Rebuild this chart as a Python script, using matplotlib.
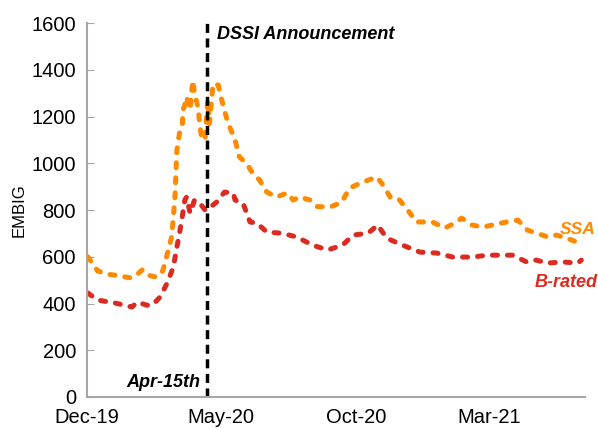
import pandas as pd
import numpy as np
import matplotlib.pyplot as plt

plt.rcParams['font.family'] = ['Liberation Sans', 'DejaVu Sans']

start = pd.Timestamp('2019-12-01')

# days since 1 Dec 2019
ssa_days = [1, 12, 24, 35, 49, 57, 63, 71, 79, 86, 91, 96, 98, 100, 101, 102, 105, 108, 109, 111,
            113, 117, 120, 122, 126, 128, 130, 134, 137, 139, 143, 149, 153, 159, 162, 168, 173, 181,
            188, 196, 204, 215, 227, 234, 241, 253, 261, 276, 289, 298, 310, 319, 329, 336, 344, 353,
            364, 374, 392, 406, 420, 425, 437, 449, 460, 476, 489, 500, 510, 523, 533, 544, 556, 562]
ssa = [600, 540, 525, 520, 510, 525, 545, 520, 513, 540, 610, 685, 770, 870, 970, 1055, 1130, 1155, 1230, 1250,
       1285, 1230, 1355, 1300, 1240, 1165, 1110, 1100, 1270, 1170, 1340, 1335, 1270, 1185, 1155, 1100, 1027, 1000,
       958, 928, 877, 856, 873, 843, 856, 843, 815, 813, 834, 894, 915, 928, 941, 907, 856, 851,
       800, 749, 749, 723, 749, 766, 736, 727, 736, 749, 757, 714, 701, 685, 693, 680, 663, 680]

b_days = [1, 12, 32, 51, 57, 68, 74, 83, 91, 98, 102, 105, 108, 111, 113, 117, 122, 128, 134, 136,
          147, 156, 166, 168, 177, 185, 193, 204, 221, 238, 256, 273, 290, 302, 319, 330, 340, 358,
          378, 397, 415, 438, 454, 468, 483, 499, 510, 522, 540, 557, 561]
b_rated = [445, 415, 402, 385, 406, 393, 393, 428, 488, 556, 642, 701, 770, 843, 856, 787, 843, 830, 800, 800,
           834, 877, 873, 843, 830, 749, 744, 706, 701, 685, 650, 629, 650, 693, 701, 736, 680, 650,
           620, 616, 599, 599, 607, 607, 607, 578, 586, 573, 578, 573, 586]

tick_dates = ['2019-12-01', '2020-05-01', '2020-10-01', '2021-03-01']
tick_labels = ['Dec-19', 'May-20', 'Oct-20', 'Mar-21']
announce = pd.Timestamp('2020-04-15')

ssa_x = start + pd.to_timedelta(ssa_days, unit='D')
b_x = start + pd.to_timedelta(b_days, unit='D')

fig = plt.figure(figsize=(5.98, 4.29), dpi=100)
ax = fig.add_axes([0.1455, 0.0746, 0.8325, 0.8714])

orange = '#FF8A00'
red = '#DD2A20'
ax.plot(ssa_x, ssa, color=orange, lw=3.6, dashes=(1.0, 2.0), dash_capstyle='round')
ax.plot(b_x, b_rated, color=red, lw=3.6, dashes=(1.0, 2.0), dash_capstyle='round')
ax.plot([announce, announce], [0, 1600], color='black', lw=2.5, dashes=(2.6, 1.6))

ax.set_ylim(0, 1600)
ax.set_xlim(start, start + pd.Timedelta(days=565))
ax.set_yticks(np.arange(0, 1601, 200))
ax.set_xticks(pd.to_datetime(tick_dates))
ax.set_xticklabels(tick_labels)
ax.tick_params(axis='y', direction='in', length=5, color='#A6A6A6', pad=8, labelsize=14.5)
ax.tick_params(axis='x', length=0, pad=8, labelsize=14.5)
for s in ['top', 'right']:
    ax.spines[s].set_visible(False)
for s in ['left', 'bottom']:
    ax.spines[s].set_color('#A6A6A6')
    ax.spines[s].set_linewidth(1.5)
ax.set_ylabel('EMBIG', fontsize=12, labelpad=3)

ax.text(announce + pd.Timedelta(days=11), 1550, 'DSSI Announcement', fontsize=13, fontweight='bold',
        style='italic', va='center', ha='left')
ax.text(announce - pd.Timedelta(days=7), 60, 'Apr-15th', fontsize=13, fontweight='bold',
        style='italic', va='center', ha='right')
ax.text(start + pd.Timedelta(days=537), 715, 'SSA', fontsize=12.5, fontweight='bold', style='italic',
        color=orange, va='center', ha='left', clip_on=False)
ax.text(start + pd.Timedelta(days=508), 488, 'B-rated', fontsize=13, fontweight='bold', style='italic',
        color=red, va='center', ha='left', clip_on=False)

fig.savefig('out.png', dpi=100)
